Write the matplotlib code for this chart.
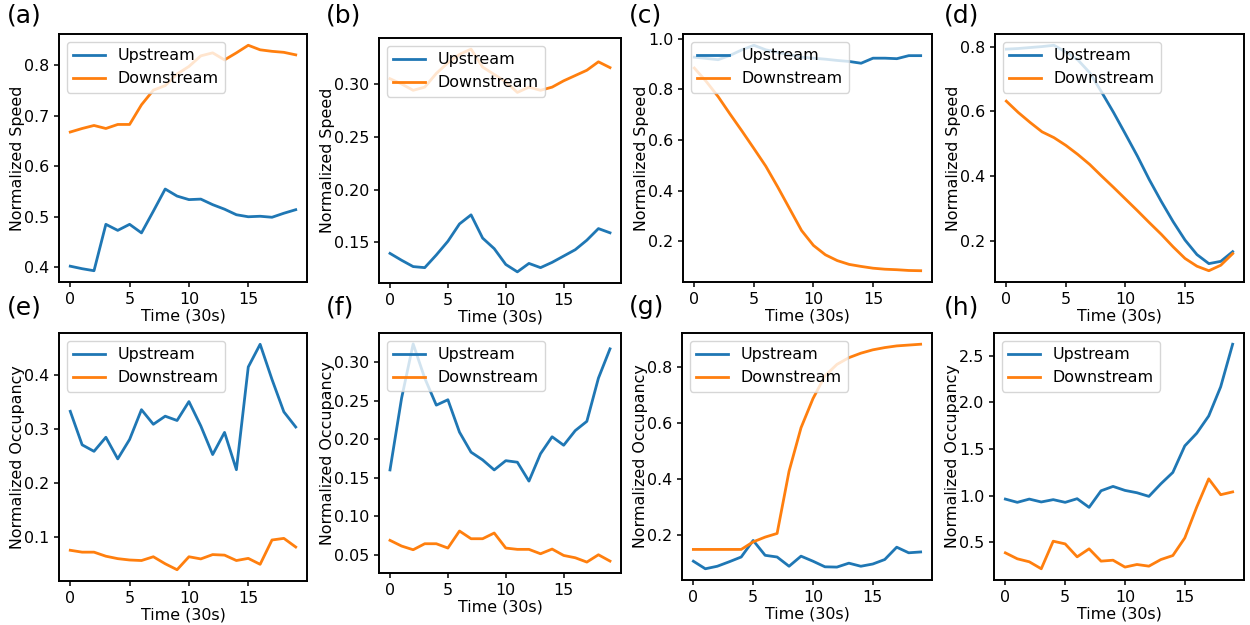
import matplotlib
matplotlib.use("Agg")
import matplotlib.pyplot as plt
import numpy as np

time_steps = list(range(20))

# (a) speed
a_up = [0.402, 0.397, 0.393, 0.485, 0.473, 0.485, 0.468, 0.511, 0.555, 0.541,
        0.534, 0.535, 0.524, 0.515, 0.504, 0.500, 0.501, 0.499, 0.507, 0.514]
a_down = [0.668, 0.675, 0.681, 0.675, 0.683, 0.683, 0.722, 0.751, 0.760, 0.783,
          0.798, 0.819, 0.825, 0.811, 0.825, 0.840, 0.831, 0.828, 0.826, 0.821]
# (b) speed
b_up = [0.1395, 0.133, 0.127, 0.126, 0.138, 0.151, 0.1674, 0.176, 0.154, 0.144,
        0.129, 0.122, 0.130, 0.126, 0.131, 0.137, 0.143, 0.152, 0.163, 0.159]
b_down = [0.305, 0.300, 0.294, 0.297, 0.310, 0.320, 0.328, 0.333, 0.316, 0.309,
          0.302, 0.292, 0.297, 0.294, 0.297, 0.303, 0.308, 0.313, 0.321, 0.3155]
# (c) speed
c_up = [0.927, 0.922, 0.917, 0.934, 0.956, 0.974, 0.956, 0.946, 0.937, 0.927,
        0.923, 0.919, 0.914, 0.910, 0.903, 0.923, 0.923, 0.921, 0.933, 0.933]
c_down = [0.884, 0.831, 0.771, 0.702, 0.635, 0.566, 0.496, 0.414, 0.328, 0.242,
          0.183, 0.146, 0.123, 0.108, 0.100, 0.093, 0.089, 0.087, 0.084, 0.083]
# (d) speed
d_up = [0.793, 0.795, 0.798, 0.801, 0.805, 0.784, 0.760, 0.720, 0.660, 0.597,
        0.530, 0.462, 0.389, 0.322, 0.259, 0.202, 0.157, 0.129, 0.136, 0.166]
d_down = [0.632, 0.597, 0.566, 0.537, 0.519, 0.495, 0.467, 0.436, 0.400, 0.365,
          0.329, 0.293, 0.256, 0.220, 0.181, 0.145, 0.121, 0.107, 0.124, 0.160]
# (e) occupancy
e_up = [0.332, 0.270, 0.258, 0.284, 0.244, 0.280, 0.335, 0.308, 0.323, 0.315,
        0.350, 0.305, 0.252, 0.293, 0.224, 0.414, 0.456, 0.391, 0.331, 0.303]
e_down = [0.075, 0.0715, 0.0715, 0.064, 0.0595, 0.057, 0.056, 0.063, 0.050, 0.039,
          0.063, 0.059, 0.067, 0.066, 0.056, 0.060, 0.049, 0.094, 0.097, 0.081]
# (f) occupancy
f_up = [0.160, 0.253, 0.3234, 0.279, 0.244, 0.251, 0.209, 0.183, 0.173, 0.160,
        0.172, 0.170, 0.1455, 0.181, 0.203, 0.192, 0.211, 0.223, 0.279, 0.317]
f_down = [0.0687, 0.0613, 0.0565, 0.0643, 0.0643, 0.0587, 0.0808, 0.0708, 0.0708, 0.0782,
          0.0587, 0.057, 0.057, 0.0513, 0.0574, 0.0491, 0.0461, 0.0405, 0.050, 0.0418]
# (g) occupancy
g_up = [0.106, 0.079, 0.088, 0.104, 0.121, 0.180, 0.127, 0.121, 0.088, 0.124,
        0.106, 0.086, 0.085, 0.099, 0.088, 0.096, 0.112, 0.156, 0.136, 0.139]
g_down = [0.148, 0.148, 0.148, 0.148, 0.148, 0.175, 0.192, 0.205, 0.427, 0.582,
          0.686, 0.767, 0.808, 0.832, 0.848, 0.860, 0.868, 0.874, 0.877, 0.880]
# (h) occupancy
h_up = [0.963, 0.928, 0.963, 0.932, 0.957, 0.928, 0.967, 0.874, 1.052, 1.099,
        1.056, 1.031, 0.992, 1.127, 1.249, 1.534, 1.670, 1.855, 2.168, 2.625]
h_down = [0.386, 0.322, 0.290, 0.215, 0.511, 0.482, 0.343, 0.429, 0.297, 0.307,
          0.233, 0.261, 0.243, 0.314, 0.357, 0.546, 0.878, 1.180, 1.010, 1.040]

panel_labels = ["(a)", "(b)", "(c)", "(d)", "(e)", "(f)", "(g)", "(h)"]
ylabels = ["Normalized Speed"] * 4 + ["Normalized Occupancy"] * 4
xlabel = "Time (30s)"
series = [(a_up, a_down), (b_up, b_down), (c_up, c_down), (d_up, d_down),
          (e_up, e_down), (f_up, f_down), (g_up, g_down), (h_up, h_down)]

W, H = 1250, 625
fig = plt.figure(figsize=(W / 100, H / 100), dpi=100)

# axes boxes in pixels (left, right, top, bottom)
boxes = [(59, 307, 34, 282), (379, 621, 38, 283), (683, 932, 34, 282), (995, 1244, 34, 282),
         (59, 307, 333, 581), (379, 621, 333, 573), (682, 932, 333, 580), (994, 1244, 333, 580)]
label_pos = [(7, 16), (326, 16), (629, 16), (944, 16),
             (7, 307), (326, 307), (629, 307), (944, 307)]

fs = 11.4
for i, (up, down) in enumerate(series):
    l, r, t, b = boxes[i]
    ax = fig.add_axes([l / W, 1 - b / H, (r - l) / W, (b - t) / H])
    ax.plot(time_steps, up, color="#1f77b4", lw=2.0, label="Upstream")
    ax.plot(time_steps, down, color="#ff7f0e", lw=2.0, label="Downstream")
    ax.set_xticks([0, 5, 10, 15])
    ax.tick_params(labelsize=fs, width=1.1)
    ax.set_xlabel(xlabel, fontsize=fs, labelpad=1)
    ax.set_ylabel(ylabels[i], fontsize=fs, labelpad=-0.5)
    for sp in ax.spines.values():
        sp.set_linewidth(1.4)
    ax.legend(loc="upper left", fontsize=fs)
    lx, ly = label_pos[i]
    fig.text(lx / W, 1 - ly / H, panel_labels[i], fontsize=18, ha="left", va="center")

fig.savefig("out.png", dpi=100)
